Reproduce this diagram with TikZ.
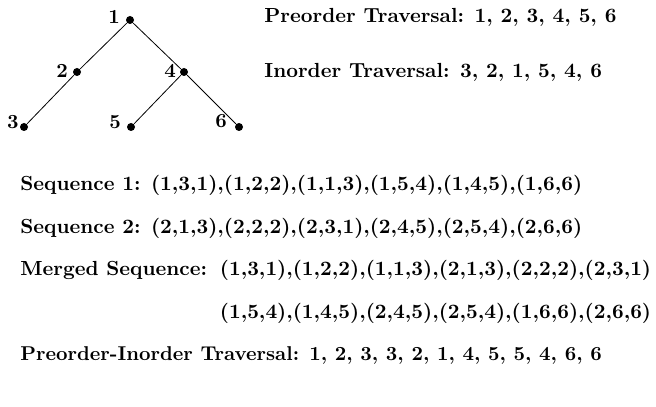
\documentclass[tikz,border=0pt]{standalone}
\usetikzlibrary{positioning}
\tikzset{
	vtx/.style={circle,fill=black,inner sep=0pt,minimum size=4pt},
	vlbl/.style={inner sep=0.75pt,font=\bfseries},
	txt/.style={anchor=base west,inner sep=0pt,font=\fontsize{10.2}{12}\bfseries},
}
\begin{document}
\begin{tikzpicture}[x=0.5pt,y=0.5pt,yscale=-1,xscale=1]
	\useasboundingbox (0,0) rectangle (656,406);
	% tree vertices
	\node [vtx] (v1) at (130,20) {};
	\node [vtx] (v2) at (77,72) {};
	\node [vtx] (v4) at (184,72) {};
	\node [vtx] (v3) at (24,127) {};
	\node [vtx] (v5) at (131,127) {};
	\node [vtx] (v6) at (239,127) {};
	% tree edges
	\draw [line width=0.4pt] (v1) -- (v2) -- (v3);
	\draw [line width=0.4pt] (v1) -- (v4) -- (v5);
	\draw [line width=0.4pt] (v4) -- (v6);
	% vertex labels
	\node [vlbl] (l1) at (114,17) {1};
	\node [vlbl] (l2) at (62,71) {2};
	\node [vlbl] (l4) at (170,71) {4};
	\node [vlbl] (l3) at (13,122) {3};
	\node [vlbl] (l5) at (115,122) {5};
	\node [vlbl] (l6) at (221,121) {6};
	% traversals
	\node [txt] (pre) at (264,23) {Preorder Traversal: 1, 2, 3, 4, 5, 6};
	\node [txt] (ino) at (264,78) {Inorder Traversal: 3, 2, 1, 5, 4, 6};
	% sequences
	\node [txt] (seq1) at (20,190) {Sequence 1: (1,3,1),(1,2,2),(1,1,3),(1,5,4),(1,4,5),(1,6,6)};
	\node [txt] (seq2) at (20,233) {Sequence 2: (2,1,3),(2,2,2),(2,3,1),(2,4,5),(2,5,4),(2,6,6)};
	\node [txt] (mrg) at (20,275) {Merged Sequence:};
	\node [txt,right=6pt of mrg.base east,anchor=base west] (mrga) {(1,3,1),(1,2,2),(1,1,3),(2,1,3),(2,2,2),(2,3,1)};
	\node [txt] (mrgb) at (mrga.base west |- 0,318) {(1,5,4),(1,4,5),(2,4,5),(2,5,4),(1,6,6),(2,6,6)};
	\node [txt,font=\bfseries] (preino) at (20,360) {Preorder-Inorder Traversal: 1, 2, 3, 3, 2, 1, 4, 5, 5, 4, 6, 6};
\end{tikzpicture}
\end{document}
